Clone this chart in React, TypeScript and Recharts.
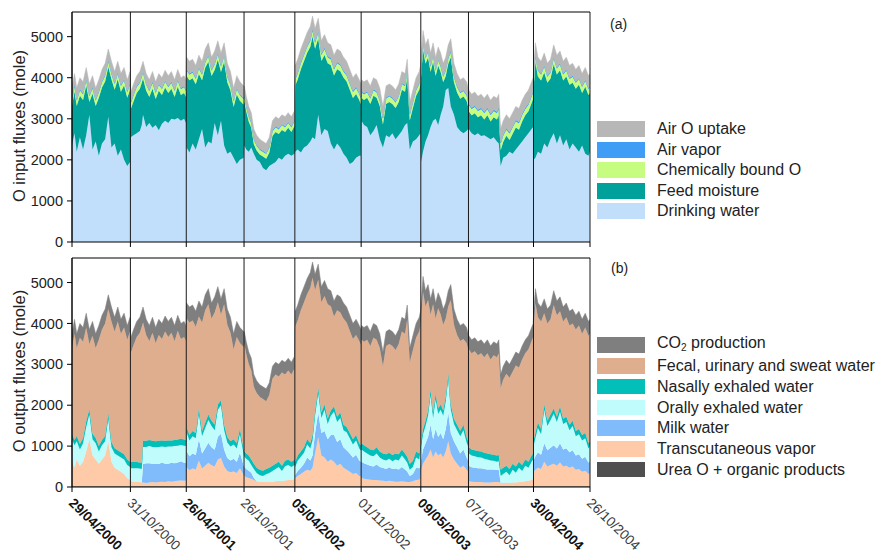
import React from "react";
import { AreaChart, Area, XAxis, YAxis, ReferenceLine } from "recharts";

const FONT = "'Liberation Sans', Arial, Helvetica, sans-serif";

// Days since 29/04/2000 (one row per segment between the dated lines)
const DAYS = [
  0, 8, 15, 25, 35, 45, 55, 65, 75, 85, 95, 105, 115, 125, 135, 145, 155, 165, 175, 184,
  186, 195, 205, 215, 221, 225, 235, 245, 255, 265, 275, 285, 295, 305, 315, 325, 335, 345, 355, 361,
  363, 372, 382, 392, 402, 412, 422, 432, 442, 452, 462, 472, 482, 492, 502, 512, 522, 532, 544,
  546, 552, 560, 568, 576, 585, 595, 605, 615, 625, 635, 645, 655, 665, 675, 685, 695, 705,
  707, 715, 725, 735, 745, 755, 762, 770, 780, 790, 800, 810, 820, 830, 840, 850, 860, 870, 880, 890, 900, 910, 915,
  917, 925, 935, 945, 955, 965, 975, 985, 995, 1005, 1015, 1025, 1035, 1045, 1055, 1062, 1070, 1080, 1090, 1100, 1104,
  1106, 1112, 1120, 1128, 1136, 1144, 1152, 1160, 1168, 1176, 1184, 1192, 1200, 1210, 1220, 1230, 1240, 1250, 1255,
  1257, 1266, 1276, 1286, 1296, 1306, 1316, 1326, 1336, 1346, 1352, 1358, 1366, 1376, 1386, 1396, 1406, 1416, 1426, 1436, 1446, 1456, 1461,
  1463, 1468, 1476, 1486, 1496, 1506, 1516, 1526, 1536, 1546, 1556, 1566, 1576, 1586, 1596, 1606, 1616, 1626, 1636, 1641,
];

// Total O flux (top of both stacks, input = output)
const TOTAL_O = [
  3750, 4100, 3750, 4000, 3900, 4250, 3850, 4050, 3750, 3950, 4200, 4350, 4700, 4400, 4150, 4400, 4100, 4250, 3950, 4150,
  3650, 3850, 4050, 4150, 4300, 4400, 4100, 3950, 4150, 3900, 4100, 4000, 4180, 4050, 4150, 3950, 4200, 4000, 4050, 3950,
  4500, 4400, 4450, 4300, 4550, 4400, 4700, 4850, 4500, 4650, 4900, 4600, 4850, 4350, 4150, 3750, 4050, 3900, 3800,
  3800, 3550, 3300, 3150, 2750, 2600, 2500, 2450, 2400, 2550, 2950, 3050, 3000, 3100, 3050, 3150, 3050, 3200,
  4300, 4450, 4700, 4900, 5100, 5250, 5500, 5200, 5450, 4900, 5050, 4850, 4800, 4550, 4700, 4650, 4500, 4400, 4200, 4000, 4100, 3950, 3850,
  3950, 3900, 3950, 3800, 4000, 3950, 3750, 3300, 3800, 3850, 3800, 3700, 3850, 4150, 4100, 4450, 3400, 3700, 4000, 4150, 4300,
  4500, 5150, 4800, 4950, 4600, 4850, 4500, 4750, 4600, 4350, 4500, 4800, 4950, 4350, 4100, 3950, 4000, 3900, 3750,
  3700, 3600, 3650, 3550, 3600, 3500, 3600, 3450, 3550, 3500, 3600, 2750, 2950, 3100, 3000, 3150, 3300, 3250, 3450, 3600, 3700, 3900, 4000,
  4300, 4850, 4500, 4400, 4600, 4350, 4450, 4800, 4550, 4650, 4400, 4500, 4300, 4350, 4200, 4300, 4100, 4250, 4050, 4100,
];

const DRINKING_WATER = [
  2350, 2650, 2200, 2550, 2250, 2600, 3100, 2250, 2450, 2100, 2400, 2500, 3050, 2300, 2400, 2100, 2250, 2000, 1850, 1950,
  2550, 2600, 2650, 2700, 2850, 3100, 2800, 2900, 2780, 2850, 2720, 2880, 2950, 2900, 3000, 2980, 3020, 2950, 3000, 2900,
  2300, 2180, 2400, 2250, 2500, 2750, 2300, 2450, 2400, 2900, 2600, 2950, 2350, 2150, 2200, 2050, 1900, 2000, 2050,
  2350, 2250, 2200, 2300, 2150, 2000, 1950, 1800, 1750, 1850, 1900, 1950, 2050, 2000, 2100, 2150, 2100, 2150,
  2200, 2250, 2180, 2300, 2350, 2450, 2550, 2500, 3100, 2600, 2750, 2700, 2400, 2250, 2400, 2300, 2150, 2050, 1900, 1950, 2050, 2100, 2100,
  2950, 2850, 2800, 2600, 2700, 2850, 2500, 2300, 2600, 2550, 2650, 2500, 2600, 2700, 2850, 2900, 2250, 2450, 2500, 2600, 2650,
  1950, 2200, 2450, 2600, 2800, 2950, 3000, 2850, 3100, 3300, 3700, 3750, 3300, 3100, 2800, 2700, 2650, 2700, 2750,
  2750, 2650, 2600, 2650, 2580, 2600, 2550, 2500, 2550, 2450, 2400, 1850, 2050, 2100, 2200, 2150, 2250, 2350, 2450, 2550, 2650, 2750, 2800,
  2000, 2050, 2200, 2150, 2400, 2300, 2500, 2650, 2400, 2600, 2350, 2500, 2250, 2400, 2300, 2200, 2350, 2150, 2100, 2200,
];

const TRANSCUTANEOUS = [
  600, 450, 650, 500, 600, 850, 1150, 750, 650, 550, 650, 750, 1100, 600, 450, 400, 350, 300, 200, 150,
  120, 110, 100, 100, 90, 90, 80, 90, 100, 90, 100, 110, 100, 120, 110, 120, 130, 140, 130, 130,
  460, 390, 430, 410, 620, 430, 500, 570, 510, 480, 650, 690, 480, 370, 340, 360, 320, 440, 270,
  250, 220, 200, 180, 150, 120, 100, 100, 100, 100, 110, 120, 130, 120, 140, 150, 150, 170,
  200, 250, 300, 350, 400, 380, 450, 800, 1200, 750, 700, 600, 650, 600, 500, 550, 450, 400, 350, 300, 320, 250, 250,
  200, 180, 170, 160, 150, 150, 140, 130, 120, 130, 120, 110, 110, 120, 110, 100, 100, 120, 150, 160, 200,
  400, 550, 650, 750, 900, 700, 850, 750, 800, 700, 850, 1100, 800, 650, 550, 450, 500, 400, 350,
  120, 110, 100, 100, 100, 90, 90, 90, 100, 100, 100, 80, 80, 90, 80, 90, 90, 100, 110, 120, 130, 150, 180,
  350, 400, 450, 420, 600, 480, 520, 550, 500, 580, 480, 500, 450, 480, 400, 420, 350, 380, 300, 320,
];

const MILK_WATER = [
  0, 0, 0, 0, 0, 0, 0, 0, 0, 0, 0, 0, 0, 0, 0, 0, 0, 0, 0, 0,
  0, 0, 0, 0, 0, 450, 480, 470, 450, 460, 440, 470, 450, 430, 460, 440, 450, 470, 440, 450,
  400, 340, 370, 350, 530, 370, 430, 490, 440, 410, 560, 590, 410, 320, 290, 310, 280, 380, 230,
  230, 200, 180, 150, 50, 0, 0, 0, 0, 0, 0, 0, 0, 0, 0, 0, 0, 0,
  80, 120, 150, 200, 300, 250, 300, 500, 600, 550, 650, 550, 600, 650, 580, 600, 500, 480, 450, 400, 450, 380, 350,
  400, 380, 360, 340, 330, 380, 330, 320, 300, 330, 300, 320, 300, 350, 300, 260, 150, 180, 300, 280, 300,
  250, 350, 400, 450, 600, 450, 550, 450, 500, 450, 550, 700, 500, 450, 400, 350, 400, 300, 280,
  380, 350, 350, 340, 340, 330, 320, 320, 310, 300, 300, 0, 0, 0, 0, 0, 0, 0, 0, 0, 0, 0, 0,
  300, 330, 380, 350, 450, 400, 420, 450, 420, 470, 420, 430, 380, 400, 350, 360, 320, 340, 280, 290,
];

const ORAL_EXHALED = [
  550, 550, 450, 400, 450, 600, 600, 400, 400, 300, 350, 350, 550, 350, 350, 350, 350, 350, 320, 320,
  320, 330, 340, 330, 330, 420, 400, 420, 410, 400, 420, 390, 410, 420, 400, 420, 410, 400, 420, 400,
  460, 390, 420, 410, 620, 420, 490, 560, 520, 480, 660, 690, 480, 380, 340, 350, 320, 450, 270,
  240, 250, 240, 190, 220, 200, 170, 150, 190, 220, 260, 300, 340, 250, 350, 370, 320, 350,
  190, 250, 270, 270, 320, 290, 370, 420, 470, 370, 520, 370, 470, 570, 490, 520, 420, 440, 370, 320, 350, 290, 270,
  300, 290, 270, 250, 250, 270, 230, 200, 210, 210, 190, 220, 220, 280, 240, 210, 150, 170, 250, 210, 350,
  320, 370, 420, 520, 720, 520, 720, 570, 570, 570, 670, 820, 570, 420, 420, 420, 470, 370, 340,
  300, 290, 280, 270, 260, 250, 240, 220, 210, 200, 210, 170, 220, 260, 190, 310, 240, 350, 260, 380, 320, 450, 470,
  370, 440, 590, 500, 820, 590, 680, 770, 650, 770, 620, 640, 540, 590, 470, 490, 450, 450, 340, 360,
];

// Thin layers, one value per period between dated lines
const AIR_O_UPTAKE_SEG = [280, 250, 300, 230, 320, 280, 300, 330, 300];
const AIR_VAPOR_SEG = [30, 30, 30, 30, 35, 30, 30, 35, 30];
const CHEM_BOUND_SEG = [130, 140, 130, 110, 140, 130, 130, 150, 140];
const NASAL_SEG = [130, 150, 130, 130, 130, 150, 130, 150, 130];
const CO2_SEG = [350, 380, 380, 300, 380, 350, 380, 330, 350];
const UREA_SEG = [20, 20, 20, 20, 20, 20, 20, 20, 20];

const TICK_DAYS = [0, 185, 362, 545, 706, 916, 1105, 1256, 1462, 1641];
const TICK_LABELS = [
  "29/04/2000", "31/10/2000", "26/04/2001", "26/10/2001", "05/04/2002",
  "01/11/2002", "09/05/2003", "07/10/2003", "30/04/2004", "26/10/2004",
];
const TICK_BOLD = [true, false, true, false, true, false, true, false, true, false];
const Y_TICKS = [0, 1000, 2000, 3000, 4000, 5000];
const Y_MAX = 5600;

const INPUT_SERIES = [
  { key: "dw", name: "Drinking water", color: "#c1dffb" },
  { key: "feed", name: "Feed moisture", color: "#00a09b" },
  { key: "cb", name: "Chemically bound O", color: "#c6fc7f" },
  { key: "av", name: "Air vapor", color: "#3f9df6" },
  { key: "ao", name: "Air O uptake", color: "#b7b7b7" },
];
const OUTPUT_SERIES = [
  { key: "urea", name: "Urea O + organic products", color: "#4f4f4f" },
  { key: "tr", name: "Transcutaneous vapor", color: "#fecaa8" },
  { key: "milk", name: "Milk water", color: "#80bcfb" },
  { key: "oral", name: "Orally exhaled water", color: "#c0fcfc" },
  { key: "nasal", name: "Nasally exhaled water", color: "#03bfba" },
  { key: "fecal", name: "Fecal, urinary and sweat water", color: "#deae8e" },
  { key: "co2", name: "CO2 production", color: "#7f7f7f" },
];

function segmentOf(day: number) {
  let s = 0;
  for (let i = 1; i < TICK_DAYS.length - 1; i++) if (day >= TICK_DAYS[i]) s = i;
  return s;
}

const rows = DAYS.map((day, i) => {
  const s = segmentOf(day);
  const total = TOTAL_O[i];
  const dw = DRINKING_WATER[i];
  const ao = AIR_O_UPTAKE_SEG[s];
  const av = AIR_VAPOR_SEG[s];
  const cb = CHEM_BOUND_SEG[s];
  const nasal = NASAL_SEG[s];
  const co2 = CO2_SEG[s];
  const urea = UREA_SEG[s];
  const tr = TRANSCUTANEOUS[i];
  const milk = MILK_WATER[i];
  const oral = ORAL_EXHALED[i];
  return {
    day,
    dw,
    feed: total - dw - cb - av - ao,
    cb,
    av,
    ao,
    urea,
    tr,
    milk,
    oral,
    nasal,
    fecal: total - co2 - urea - tr - milk - oral - nasal,
    co2,
  };
});

const EmptyTick = () => <g />;

const DateTick = (props: any) => {
  const { x, y, payload } = props;
  const i = TICK_DAYS.indexOf(payload.value);
  const px = x - 4;
  const py = y + 10;
  return (
    <text
      x={px}
      y={py}
      transform={`rotate(44, ${px}, ${py})`}
      textAnchor="start"
      fontSize={13.5}
      fontFamily={FONT}
      fontWeight={TICK_BOLD[i] ? "bold" : "normal"}
      fill={TICK_BOLD[i] ? "#111" : "#3a3a3a"}
    >
      {TICK_LABELS[i]}
    </text>
  );
};

function renderAreas(series: { key: string; color: string }[], stackId: string) {
  return series.map((s) => (
    <Area
      key={s.key}
      type="linear"
      dataKey={s.key}
      stackId={stackId}
      fill={s.color}
      fillOpacity={1}
      stroke={s.key === "milk" || s.key === "urea" ? "none" : s.color}
      strokeWidth={0.5}
      dot={false}
      activeDot={false}
      isAnimationActive={false}
    />
  ));
}

function frameLines() {
  return [
    ...TICK_DAYS.map((d) => (
      <ReferenceLine key={`v${d}`} x={d} stroke="#1a1a1a" strokeWidth={1} />
    )),
    <ReferenceLine key="top" y={Y_MAX} stroke="#000" strokeWidth={1} />,
  ];
}

const yAxisProps = {
  type: "number" as const,
  domain: [0, Y_MAX],
  ticks: Y_TICKS,
  width: 72,
  tickSize: 5,
  tickMargin: 4,
  interval: 0 as const,
  allowDataOverflow: true,
  axisLine: { stroke: "#000" },
  tickLine: { stroke: "#000" },
  tick: { fontSize: 14.5, fill: "#222", fontFamily: FONT },
};

const Legend = ({
  items,
  top,
  step,
  boxH,
}: {
  items: { name: React.ReactNode; color: string }[];
  top: number;
  step: number;
  boxH: number;
}) => (
  <>
    {items.map((it, i) => (
      <div
        key={i}
        style={{
          position: "absolute",
          left: 597,
          top: top + i * step,
          height: boxH,
          display: "flex",
          alignItems: "center",
          whiteSpace: "nowrap",
        }}
      >
        <div style={{ width: 48, height: boxH, background: it.color }} />
        <div
          style={{
            marginLeft: 12,
            fontSize: 16,
            fontFamily: FONT,
            color: "#222",
            lineHeight: `${boxH}px`,
          }}
        >
          {it.name}
        </div>
      </div>
    ))}
  </>
);

export default function App() {
  const inLegend = [...INPUT_SERIES].reverse().map((s) => ({ name: s.name, color: s.color }));
  const outLegend = [...OUTPUT_SERIES].reverse().map((s) => ({
    name:
      s.key === "co2" ? (
        <span>
          CO<sub style={{ fontSize: 10, verticalAlign: "-3px" }}>2</sub> production
        </span>
      ) : (
        s.name
      ),
    color: s.color,
  }));

  return (
    <div
      style={{
        position: "absolute",
        left: 0,
        top: 0,
        width: 875,
        height: 555,
        background: "#fff",
        overflow: "hidden",
        fontFamily: FONT,
      }}
    >
      <div style={{ position: "absolute", left: 0, top: 0 }}>
        <AreaChart
          width={875}
          height={260}
          data={rows}
          margin={{ top: 12, right: 285, bottom: 0, left: 0 }}
        >
          <XAxis
            dataKey="day"
            type="number"
            domain={[0, 1641]}
            ticks={TICK_DAYS}
            interval={0}
            allowDataOverflow
            height={18}
            tickSize={5}
            axisLine={{ stroke: "#000" }}
            tickLine={{ stroke: "#000" }}
            tick={EmptyTick}
          />
          <YAxis {...yAxisProps} />
          {renderAreas(INPUT_SERIES, "in")}
          {frameLines()}
        </AreaChart>
      </div>

      <div style={{ position: "absolute", left: 0, top: 245 }}>
        <AreaChart
          width={875}
          height={310}
          data={rows}
          margin={{ top: 13, right: 285, bottom: 0, left: 0 }}
        >
          <XAxis
            dataKey="day"
            type="number"
            domain={[0, 1641]}
            ticks={TICK_DAYS}
            interval={0}
            allowDataOverflow
            height={68}
            tickSize={5}
            tickMargin={2}
            axisLine={{ stroke: "#000" }}
            tickLine={{ stroke: "#000" }}
            tick={(p: any) => <DateTick {...p} />}
          />
          <YAxis {...yAxisProps} />
          {renderAreas(OUTPUT_SERIES, "out")}
          {frameLines()}
        </AreaChart>
      </div>

      <div
        style={{
          position: "absolute",
          left: 19,
          top: 126,
          transform: "translate(-50%, -50%) rotate(-90deg)",
          whiteSpace: "nowrap",
          fontSize: 16.5,
          color: "#222",
        }}
      >
        O input fluxes (mole)
      </div>
      <div
        style={{
          position: "absolute",
          left: 19,
          top: 371,
          transform: "translate(-50%, -50%) rotate(-90deg)",
          whiteSpace: "nowrap",
          fontSize: 16.5,
          color: "#222",
        }}
      >
        O output fluxes (mole)
      </div>

      <div style={{ position: "absolute", left: 610, top: 16, fontSize: 14, color: "#222" }}>(a)</div>
      <div style={{ position: "absolute", left: 611, top: 260, fontSize: 14, color: "#222" }}>(b)</div>

      <Legend items={inLegend} top={121} step={20.6} boxH={16} />
      <Legend items={outLegend} top={337.3} step={20.75} boxH={15.5} />
    </div>
  );
}
